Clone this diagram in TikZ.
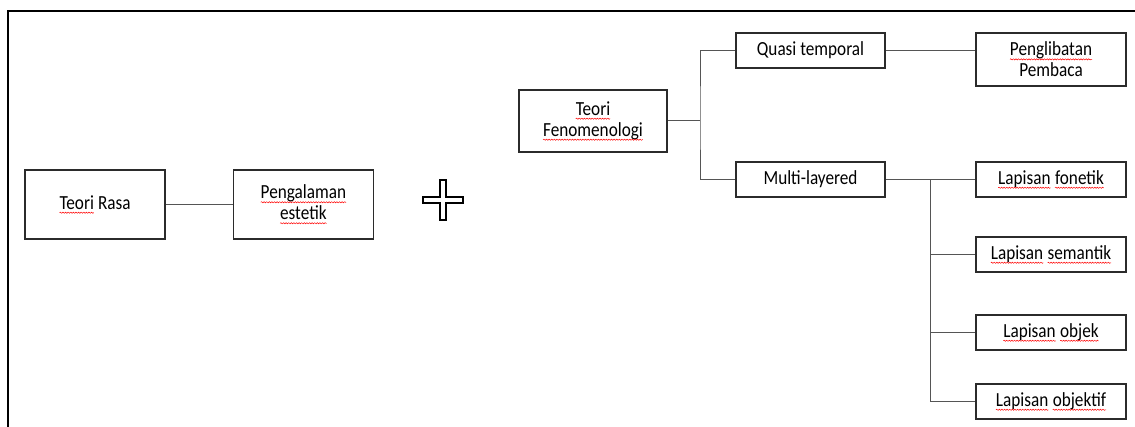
\documentclass[tikz,border=0pt]{standalone}
\usepackage{fontspec}
\setmainfont{Carlito}[FakeStretch=0.86]
\usepackage{tikz}
\usetikzlibrary{positioning, decorations.pathmorphing}
\definecolor{boxline}{HTML}{2B2B2B}
\definecolor{linkline}{HTML}{555555}
% red wavy spell-check underline
\newcommand\sq[1]{\tikz[baseline=(w.base)]{\node[draw=none, minimum size=0pt, align=none,
        inner sep=0pt, outer sep=0pt] (w) {#1};
    \draw[red, line width=0.5pt, decorate, decoration={snake, amplitude=0.6pt, segment length=2.6pt}]
    ([yshift=-3.5pt]w.base west) -- ([yshift=-3.5pt]w.base east);}}
\tikzstyle{box} = [rectangle, draw=boxline, line width=1.4pt, inner sep=0pt,
    align=center, text centered, font=\fontsize{20}{21}\selectfont]
\tikzstyle{bigbox} = [box, minimum width=140pt, minimum height=69pt]
\tikzstyle{smallbox} = [box, minimum width=150pt, minimum height=35pt]
\tikzstyle{link} = [draw=linkline, line width=1pt]
\begin{document}
\begin{tikzpicture}[x=1pt, y=-1pt]
            \useasboundingbox (0,0) rectangle (1135,427);
            \draw [line width=1.6pt] (8,427) -- (8,11) -- (1135,11);

            \node (rasa) [bigbox] at (95,204.5) {\sq{Teori} Rasa};
            \node (alami) [bigbox, right=67pt of rasa] {\sq{Pengalaman}\\\sq{estetik}};
            \draw [link] (rasa) -- (alami);

            % plus sign
            \draw [line width=1.3pt] (440,180) -- (446,180) -- (446,197) -- (463,197)
                -- (463,203) -- (446,203) -- (446,220) -- (440,220) -- (440,203)
                -- (423,203) -- (423,197) -- (440,197) -- cycle;

            \node (feno) [box, minimum width=148pt, minimum height=62pt] at (593,121) {\sq{Teori}\\\sq{Fenomenologi}};
            \node (quasi) [smallbox, minimum width=149pt] at (810.5,50.5) {Quasi temporal};
            \node (multi) [smallbox, minimum width=149pt] at (810.5,179.5) {Multi-layered};
            \node (libat) [smallbox, minimum height=53pt] at (1051,59.5) {\sq{Penglibatan}\\Pembaca};
            \node (fonetik) [smallbox] at (1051,179.5) {\sq{Lapisan} \sq{fonetik}};
            \node (semantik) [smallbox] at (1051,254.5) {\sq{Lapisan} \sq{semantik}};
            \node (objek) [smallbox] at (1051,332.5) {\sq{Lapisan} \sq{objek}};
            \node (objektif) [smallbox] at (1051,401.5) {\sq{Lapisan} \sq{objektif}};

            \coordinate (fork) at (700,121);
            \coordinate (bus) at (930,179.5);
            \draw [link] (feno) -- (fork);
            \draw [link] (quasi.west) -| (fork) |- (multi.west);
            \draw [link] (quasi.east) -- (quasi.east -| libat.west);
            \draw [link] (multi) -- (fonetik);
            \foreach \layer in {semantik, objek, objektif}
                \draw [link] (bus) |- (\layer.west);
        \end{tikzpicture}
\end{document}
